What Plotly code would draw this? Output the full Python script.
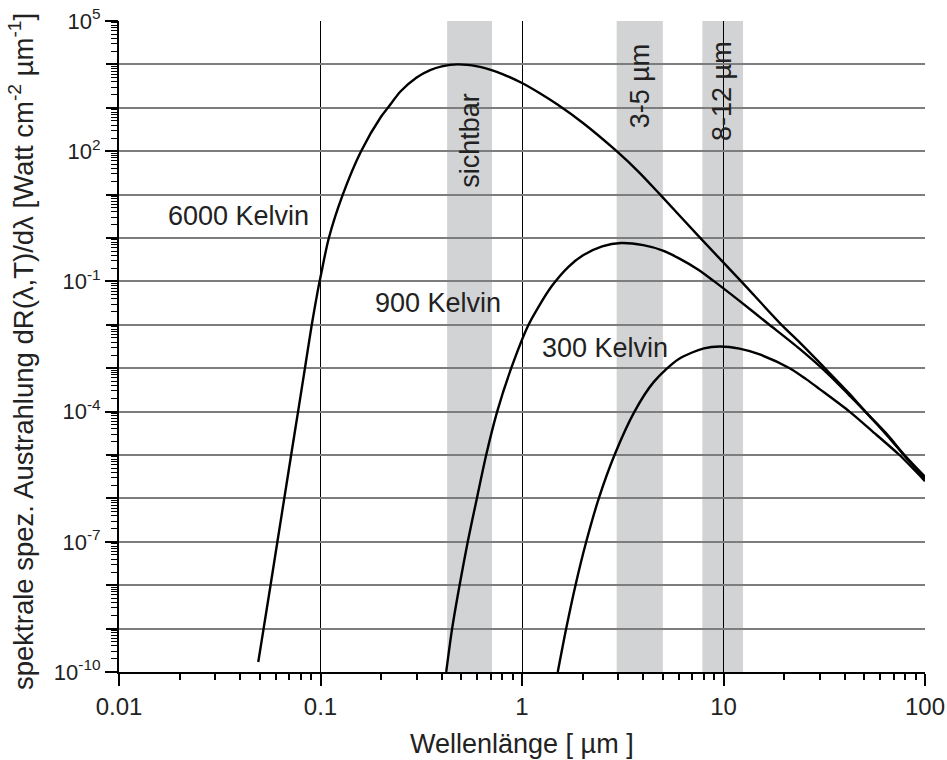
import math
import plotly.graph_objects as go

# ---- data (wavelength in µm, radiance in W cm^-2 µm^-1) ----
wl_6000 = [0.0491, 0.0522, 0.0565, 0.0611, 0.0661, 0.0715, 0.0774, 0.0837, 0.0905, 0.0970,
           0.100, 0.110, 0.129, 0.159, 0.200, 0.216, 0.25, 0.30, 0.35, 0.40, 0.48, 0.60, 0.70,
           0.80, 1.00, 1.22, 1.50, 2.00, 2.95, 3.80, 4.85, 7.60, 12.24, 19.7, 23.8, 32.8, 42.0,
           51.1, 65.0, 79.1, 100.0]
rad_6000 = [1.7e-10, 1e-9, 1e-8, 1e-7, 1e-6, 1e-5, 1e-4, 1e-3, 1e-2, 6.2e-2,
            0.126, 1.0, 10.0, 100.0, 631.0, 1000.0, 2400.0, 5010.0, 7410.0, 9020.0, 10000.0, 9020.0, 7480.0,
            6000.0, 3720.0, 2190.0, 1190.0, 453.0, 100.0, 33.1, 10.0, 1.05, 0.1, 9.3e-3, 3.98e-3, 8.7e-4, 2.63e-4,
            9.5e-5, 2.95e-5, 1e-5, 3.16e-6]

wl_900 = [0.4205, 0.450, 0.490, 0.538, 0.597, 0.664, 0.753, 0.884, 1.069, 1.20, 1.40, 1.70,
          2.00, 2.50, 3.10, 4.00, 5.00, 6.05, 7.50, 9.0, 12.0, 16.6, 23.8, 32.8, 42.0, 51.5, 65.0,
          79.5, 100.0]
rad_900 = [1e-10, 1e-9, 1e-8, 1e-7, 1e-6, 1e-5, 1e-4, 1e-3, 9.3e-3, 2.46e-2, 7.6e-2, 0.217,
           0.395, 0.641, 0.767, 0.684, 0.513, 0.335, 0.186, 0.1, 3.55e-2, 1.07e-2, 2.82e-3, 7.6e-4, 2.4e-4, 9.1e-5, 2.8e-5,
           9.3e-6, 2.82e-6]

wl_300 = [1.505, 1.657, 1.843, 2.083, 2.405, 2.878, 3.617, 4.50, 6.0, 8.0, 9.6, 12.0, 15.0,
          21.3, 25.7, 30.0, 42.2, 55.0, 74.7, 100.0]
rad_300 = [1e-10, 1e-9, 1e-8, 1e-7, 1e-6, 1e-5, 1e-4, 4.78e-4, 1.63e-3, 2.86e-3, 3.16e-3, 2.82e-3, 2.10e-3,
           1e-3, 5.6e-4, 3.3e-4, 1e-4, 3.47e-5, 1e-5, 2.5e-6]

bands = [(0.425, 0.71), (2.95, 5.0), (7.85, 12.5)]

x_tick_vals = [0.01, 0.1, 1, 10, 100]
x_tick_text = ["0.01", "0.1", "1", "10", "100"]
y_label_exponents = [-10, -7, -4, -1, 2, 5]
y_grid_exponents = list(range(-10, 6))

FONT = "Liberation Sans, Arial, sans-serif"
TXT = "#222222"

fig = go.Figure()

for wl, rad in [(wl_6000, rad_6000), (wl_900, rad_900), (wl_300, rad_300)]:
    fig.add_trace(go.Scatter(
        x=wl, y=rad, mode="lines", yaxis="y2",
        line=dict(color="black", width=2.4, shape="spline", smoothing=0.8),
        hoverinfo="skip", showlegend=False))

for x0, x1 in bands:
    fig.add_shape(type="rect", xref="x", yref="paper", x0=x0, x1=x1, y0=0, y1=1,
                  fillcolor="#d2d3d5", line=dict(width=0), layer="below")

y_label_vals = [10.0 ** k for k in y_label_exponents]
y_label_text = [f"10<sup>{k}</sup>" for k in y_label_exponents]
y_grid_vals = [10.0 ** k for k in y_grid_exponents]
y_minor = [m * 10.0 ** k for k in range(-10, 5) for m in range(2, 10)]
x_minor = [m * 10.0 ** k for k in range(-2, 2) for m in range(2, 10)]

fig.update_layout(
    xaxis=dict(
        type="log", range=[-2, 2], automargin=False,
        tickmode="array", tickvals=x_tick_vals, ticktext=x_tick_text,
        ticks="outside", ticklen=12, tickwidth=1.5, tickcolor="black",
        showgrid=True, gridcolor="black", gridwidth=1.2,
        showline=True, linecolor="black", linewidth=2,
        zeroline=False,
        tickfont=dict(family=FONT, size=24, color=TXT),
        minor=dict(tickmode="array", tickvals=x_minor, ticks="outside", ticklen=6,
                   tickwidth=1.5, tickcolor="black", showgrid=False),
    ),
    yaxis=dict(
        type="log", range=[-10, 5], automargin=False,
        tickmode="array", tickvals=y_label_vals, ticktext=y_label_text,
        ticks="outside", ticklen=12, tickwidth=1.5, tickcolor="black",
        showgrid=False,
        showline=True, linecolor="black", linewidth=2,
        zeroline=False,
        tickfont=dict(family=FONT, size=22, color=TXT),
        minor=dict(tickmode="array", tickvals=y_minor, ticks="outside", ticklen=6,
                   tickwidth=1.2, tickcolor="black", showgrid=False),
    ),
    yaxis2=dict(
        type="log", range=[-10, 5], automargin=False,
        overlaying="y", side="left", anchor="x",
        tickmode="array", tickvals=y_grid_vals, showticklabels=False,
        ticks="outside", ticklen=12, tickwidth=1.5, tickcolor="black",
        showgrid=True, gridcolor="#7d7d7d", gridwidth=2,
        showline=False, zeroline=False,
    ),
)

def ann(text, lam, val, size=27, angle=0):
    fig.add_annotation(x=math.log10(lam), y=math.log10(val), xref="x", yref="y",
                       text=text, showarrow=False, textangle=angle,
                       xanchor="center", yanchor="middle",
                       font=dict(family=FONT, size=size, color=TXT))

ann("6000 Kelvin", 0.0392, 3.16)
ann("900 Kelvin", 0.383, 0.0316)
ann("300 Kelvin", 2.58, 0.00285)
ann("sichtbar", 0.55, 180.0, angle=-90)
ann("3-5 µm", 3.85, 3300.0, angle=-90)
ann("8-12 µm", 9.9, 2400.0, angle=-90)

fig.add_annotation(xref="paper", yref="paper", x=0.5, y=-0.1106,
                   text="Wellenlänge [ µm ]", showarrow=False,
                   xanchor="center", yanchor="middle",
                   font=dict(family=FONT, size=27, color=TXT))
fig.add_annotation(xref="paper", yref="paper", x=-0.1203, y=0.4916,
                   text="spektrale spez. Austrahlung dR(λ,T)/dλ [Watt cm<sup>-2</sup> µm<sup>-1</sup>]",
                   showarrow=False, textangle=-90,
                   xanchor="center", yanchor="middle",
                   font=dict(family=FONT, size=27.5, color=TXT))

fig.update_layout(
    width=947, height=760,
    margin=dict(l=119, r=22, t=21, b=88),
    plot_bgcolor="white", paper_bgcolor="white",
    showlegend=False,
)

fig.write_html("out.html")
